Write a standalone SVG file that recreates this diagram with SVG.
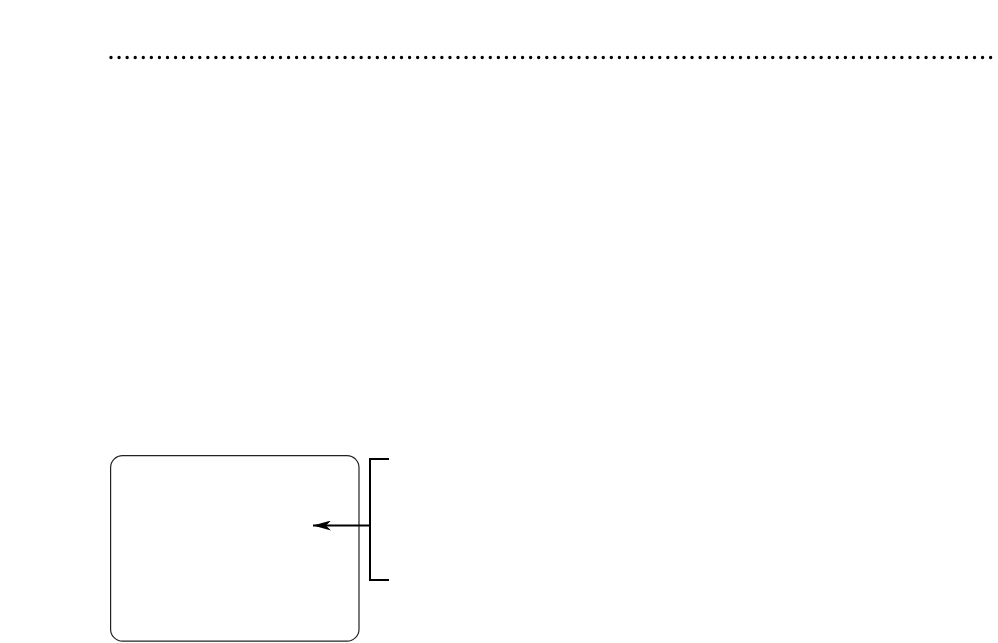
<svg xmlns="http://www.w3.org/2000/svg" width="998" height="643" viewBox="0 0 998 643">
<style>
.dots{stroke:#000;stroke-width:3.4;stroke-linecap:round;stroke-dasharray:0 8.07;fill:none}
.box{fill:#fff;stroke:#222;stroke-width:1.2}
.br{fill:none;stroke:#000;stroke-width:2}
.conn{stroke:#000;stroke-width:2;fill:none}
</style>
<defs>
<marker id="ah" viewBox="0 0 18 10" refX="18" refY="5" markerWidth="18" markerHeight="10" markerUnits="userSpaceOnUse" orient="auto">
<path d="M18,5 L0,0 L5,5 L0,10 Z" fill="#000"/>
</marker>
</defs>
<rect width="998" height="643" fill="#fff"/>
<line class="dots" x1="111" y1="57.5" x2="998" y2="57.5"/>
<g id="box"><rect class="box" x="110.6" y="455.6" width="248.4" height="185.6" rx="12" ry="12"/></g>
<g id="bracket"><path class="br" d="M389,459 H370 V580 H389"/></g>
<g id="connectors"><line class="conn" x1="370" y1="525.5" x2="313" y2="525.5" marker-end="url(#ah)"/></g>
</svg>
